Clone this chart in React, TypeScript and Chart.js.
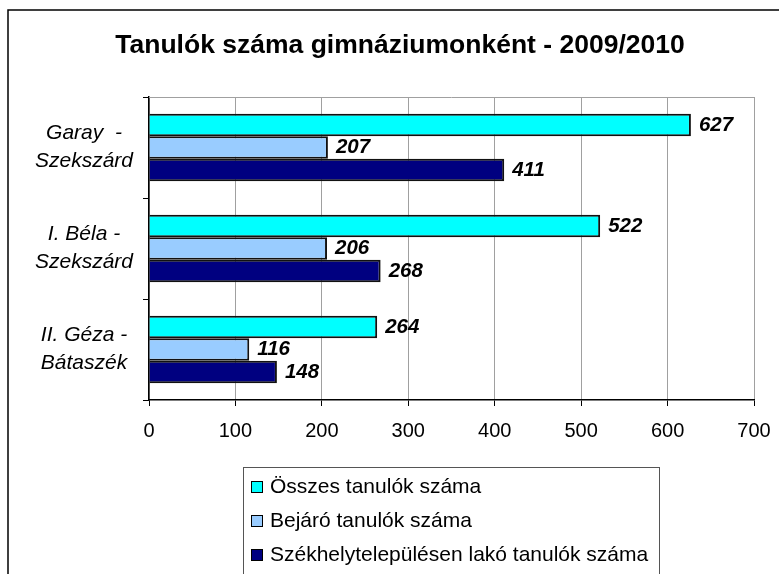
import React, { useEffect, useRef } from "react";
import { Chart, registerables } from "chart.js";
Chart.register(...registerables);

const TITLE = "Tanulók száma gimnáziumonként - 2009/2010";
const categories: string[][] = [
  ["Garay  -", "Szekszárd"],
  ["I. Béla -", "Szekszárd"],
  ["II. Géza -", "Bátaszék"],
];
const seriesNames = [
  "Összes tanulók száma",
  "Bejáró tanulók száma",
  "Székhelytelepülésen lakó tanulók száma",
];
const osszesValues = [627, 522, 264];
const bejaroValues = [207, 206, 116];
const szekhelyValues = [411, 268, 148];
const seriesColors = ["#00FFFF", "#99CCFF", "#000080"];
const xMin = 0;
const xMax = 700;
const xStep = 100;

const FONT = "'Liberation Sans', Arial, sans-serif";

const decorPlugin = {
  id: "decor",
  beforeDraw(chart: any) {
    const ctx = chart.ctx;
    ctx.save();
    ctx.fillStyle = "#ffffff";
    ctx.fillRect(0, 0, chart.width, chart.height);
    ctx.restore();
  },
  afterDraw(chart: any) {
    const ctx = chart.ctx;
    const a = chart.chartArea;
    ctx.save();
    // plot area top border
    ctx.strokeStyle = "#a0a0a0";
    ctx.lineWidth = 1;
    ctx.beginPath();
    ctx.moveTo(a.left, a.top + 0.5);
    ctx.lineTo(a.right, a.top + 0.5);
    ctx.stroke();

    // outer frame
    ctx.strokeStyle = "#000";
    ctx.lineWidth = 1.5;
    ctx.strokeRect(8, 10, 820, 640);

    // title
    ctx.fillStyle = "#000";
    ctx.font = `bold 26.5px ${FONT}`;
    ctx.textAlign = "center";
    ctx.textBaseline = "middle";
    ctx.fillText(TITLE, 400, 46);

    // data labels
    ctx.font = `italic bold 20.5px ${FONT}`;
    ctx.textAlign = "left";
    chart.data.datasets.forEach((ds: any, di: number) => {
      const meta = chart.getDatasetMeta(di);
      meta.data.forEach((el: any, i: number) => {
        ctx.fillText(String(ds.data[i]), el.x + 8, el.y);
      });
    });

    // legend
    const lx = 243, ly = 467;
    ctx.strokeStyle = "#555";
    ctx.lineWidth = 1;
    ctx.strokeRect(lx + 0.5, ly + 0.5, 416, 140);
    ctx.font = `21px ${FONT}`;
    chart.data.datasets.forEach((ds: any, di: number) => {
      const cy = 487 + di * 34;
      ctx.fillStyle = ds.backgroundColor;
      ctx.fillRect(251, cy - 6, 12, 12);
      ctx.strokeStyle = "#000";
      ctx.lineWidth = 1;
      ctx.strokeRect(251.5, cy - 5.5, 11, 11);
      ctx.fillStyle = "#000";
      ctx.textBaseline = "middle";
      ctx.fillText(ds.label, 270, cy);
    });
    ctx.restore();
  },
};

export default function App() {
  const ref = useRef<HTMLCanvasElement>(null);
  useEffect(() => {
    if (!ref.current) return;
    const values = [osszesValues, bejaroValues, szekhelyValues];
    const chart = new Chart(ref.current, {
      type: "bar",
      data: {
        labels: categories as any,
        datasets: values.map((v, i) => ({
          label: seriesNames[i],
          data: v,
          backgroundColor: seriesColors[i],
          borderColor: "#111",
          borderWidth: 2,
          categoryPercentage: 0.667,
          barPercentage: 1,
        })),
      },
      options: {
        indexAxis: "y",
        responsive: false,
        animation: false,
        layout: { padding: { top: 97, left: 0, right: 25, bottom: 114 } },
        plugins: {
          legend: { display: false },
          title: { display: false },
          tooltip: { enabled: false },
        },
        scales: {
          x: {
            min: xMin,
            max: xMax,
            afterFit: (s: any) => {
              s.height = 60;
              s.paddingLeft = 0;
              s.paddingRight = 0;
            },
            ticks: {
              stepSize: xStep,
              color: "#000",
              padding: 13,
              font: { family: FONT, size: 20 },
            },
            grid: {
              color: "#a0a0a0",
              tickColor: "#000",
              tickLength: 6,
              lineWidth: 1,
            },
            border: { color: "#000", width: 1.5 },
          },
          y: {
            offset: true,
            afterFit: (s: any) => {
              s.width = 149;
              s.paddingTop = 0;
              s.paddingBottom = 0;
            },
            ticks: {
              color: "#000",
              crossAlign: "center",
              padding: 10,
              font: { family: FONT, size: 21, style: "italic", lineHeight: 1.33 },
            },
            grid: {
              offset: true,
              drawOnChartArea: false,
              tickColor: "#000",
              tickLength: 6,
            },
            border: { color: "#000", width: 1.5 },
          },
        },
      },
      plugins: [decorPlugin],
    });
    return () => chart.destroy();
  }, []);
  return (
    <div style={{ position: "absolute", left: 0, top: 0, width: 779, height: 574 }}>
      <canvas ref={ref} width={779} height={574} />
    </div>
  );
}
